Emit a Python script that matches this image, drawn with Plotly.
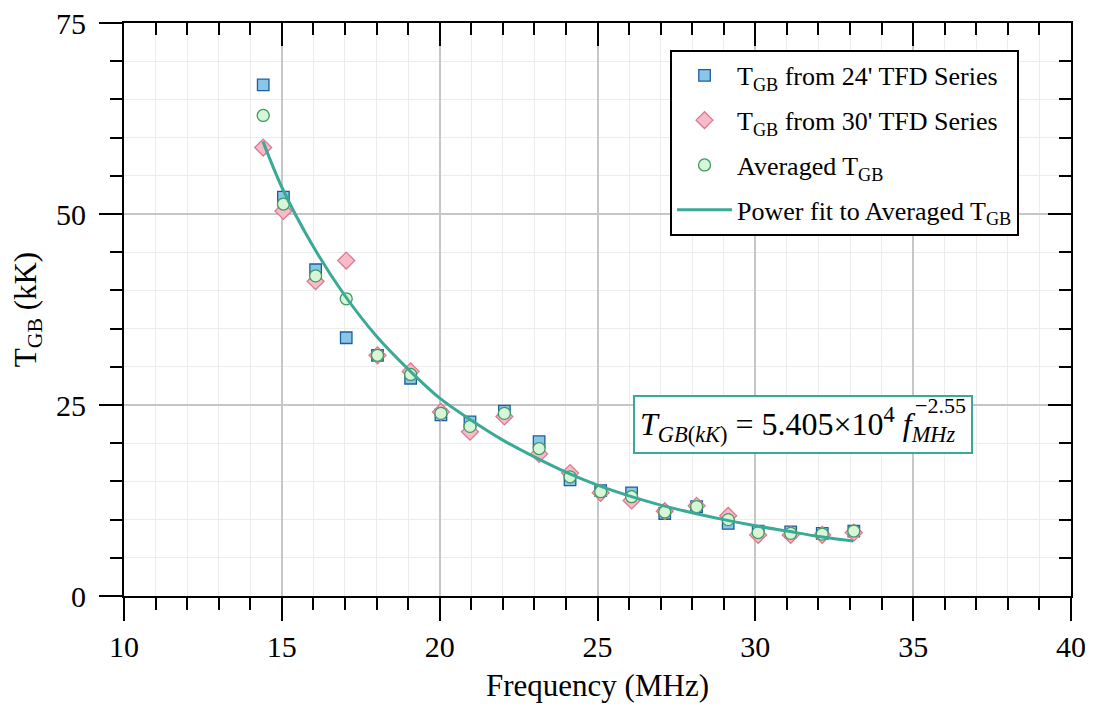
import plotly.graph_objects as go

# ---- data ----
freq = [14.41, 15.05, 16.07, 17.04, 18.03, 19.08, 20.04, 20.96, 22.05, 23.15,
        24.13, 25.10, 26.08, 27.13, 28.14, 29.14, 30.09, 31.12, 32.12, 33.12]
T24 = [66.9, 52.2, 42.7, 33.8, 31.5, 28.5, 23.7, 22.8, 24.2, 20.2,
       15.2, 13.8, 13.5, 10.8, 11.7, 9.5, 8.5, 8.4, 8.2, 8.5]
T30 = [58.7, 50.4, 41.2, 43.9, 31.5, 29.4, 24.1, 21.5, 23.5, 18.6,
       16.1, 13.5, 12.5, 11.1, 11.8, 10.5, 8.0, 8.0, 8.0, 8.3]
Tavg = [62.9, 51.3, 41.9, 38.9, 31.5, 29.0, 23.9, 22.2, 23.9, 19.3,
        15.6, 13.65, 13.0, 11.0, 11.7, 10.0, 8.3, 8.2, 8.1, 8.5]

fit_freq = [14.4, 15, 16, 17, 18, 19, 20, 21, 22, 23, 24, 25, 26, 27, 28,
            29, 30, 31, 32, 33.1]
fit_T = [59.5, 53.5, 45.7, 39.3, 34.0, 29.7, 25.9, 23.0, 20.4, 18.2, 16.2,
         14.5, 13.1, 11.9, 10.9, 10.0, 9.2, 8.5, 7.8, 7.2]

FONT = "Liberation Serif"
TEAL = "#3aa996"

fig = go.Figure()
fig.add_trace(go.Scatter(
    x=freq, y=T24, mode="markers", name="T<sub>GB</sub> from 24' TFD Series",
    legendgroup="a",
    marker=dict(symbol="square", size=11.5, color="#8ac6ea",
                line=dict(color="#1d5e9c", width=1.3))))
fig.add_trace(go.Scatter(
    x=freq, y=T30, mode="markers", name="T<sub>GB</sub> from 30' TFD Series",
    legendgroup="b",
    marker=dict(symbol="diamond", size=13, color="#f7bcc8",
                line=dict(color="#df7690", width=1.3))))
fig.add_trace(go.Scatter(
    x=freq, y=Tavg, mode="markers", name="Averaged T<sub>GB</sub>",
    legendgroup="c",
    marker=dict(symbol="circle", size=12, color="#d7f6d7",
                line=dict(color="#3f9a60", width=1.3))))
fig.add_trace(go.Scatter(
    x=fit_freq, y=fit_T, mode="lines", name="Power fit to Averaged T<sub>GB</sub>",
    legendgroup="d",
    line=dict(color=TEAL, width=3, shape="spline", smoothing=0.8)))
# dummy trace so the mirrored (inside-tick) top/right axes render
fig.add_trace(go.Scatter(x=[None], y=[None], xaxis="x2", yaxis="y2",
                         showlegend=False, hoverinfo="skip"))

axis_common = dict(showline=True, linewidth=2, linecolor="black",
                   tickwidth=2, tickcolor="black", zeroline=False,
                   automargin=False)

# page body has an 8px margin, so the figure is sized/margined to compensate
fig.update_layout(
    width=1085, height=700,
    margin=dict(l=116, r=22, t=15, b=112),
    paper_bgcolor="white", plot_bgcolor="white",
    font=dict(family=FONT, color="black", size=28),
    xaxis=dict(range=[10, 40], tick0=10, dtick=5, ticks="outside", ticklen=23,
               showgrid=True, gridcolor="#c6c6c6", gridwidth=1.5,
               minor=dict(dtick=1, ticks="outside", ticklen=12, tickwidth=2,
                          tickcolor="black", showgrid=True,
                          gridcolor="#ececec", gridwidth=1),
               tickfont=dict(size=30), ticklabelstandoff=0,
               ticklabeloverflow="allow",
               title=dict(text="Frequency (MHz)", font=dict(size=31), standoff=12),
               **axis_common),
    yaxis=dict(range=[0, 75], tick0=0, dtick=25, ticks="outside", ticklen=23,
               showgrid=True, gridcolor="#c6c6c6", gridwidth=1.5,
               minor=dict(dtick=5, ticks="outside", ticklen=12, tickwidth=2,
                          tickcolor="black", showgrid=True,
                          gridcolor="#ececec", gridwidth=1),
               tickfont=dict(size=30), ticklabelstandoff=7,
               ticklabeloverflow="allow",
               title=dict(text="T<sub>GB</sub> (kK)", font=dict(size=31), standoff=14),
               **axis_common),
    xaxis2=dict(range=[10, 40], tick0=10, dtick=5, overlaying="x", side="top",
                anchor="y2", ticks="inside", ticklen=23, showticklabels=False,
                showgrid=False,
                minor=dict(dtick=1, ticks="inside", ticklen=12, tickwidth=2,
                           tickcolor="black", showgrid=False),
                **axis_common),
    yaxis2=dict(range=[0, 75], tick0=0, dtick=25, overlaying="y", side="right",
                anchor="x2", ticks="inside", ticklen=23, showticklabels=False,
                showgrid=False,
                minor=dict(dtick=5, ticks="inside", ticklen=12, tickwidth=2,
                           tickcolor="black", showgrid=False),
                **axis_common),
    legend=dict(x=0.5766, y=0.953, xanchor="left", yanchor="top",
                bgcolor="white", bordercolor="black", borderwidth=2,
                font=dict(family=FONT, size=26), tracegroupgap=8,
                itemwidth=55),
    showlegend=True,
)

fig.add_annotation(
    x=31.5, y=22.45, xref="x", yref="y", xanchor="center", yanchor="middle",
    showarrow=False,
    text="<i>T</i><sub><i>GB</i>(<i>kK</i>)</sub> = 5.405×10<sup>4</sup> "
         "<i>f</i><sub><i>MHz</i>  </sub>",
    font=dict(family=FONT, size=32, color="black"),
    bgcolor="white", bordercolor=TEAL, borderwidth=2, borderpad=5,
)
fig.add_annotation(
    x=34.98, y=24.9, xref="x", yref="y", xanchor="left", yanchor="middle",
    showarrow=False, text="−2.55",
    font=dict(family=FONT, size=22, color="black"),
)

fig.write_html("out.html")
